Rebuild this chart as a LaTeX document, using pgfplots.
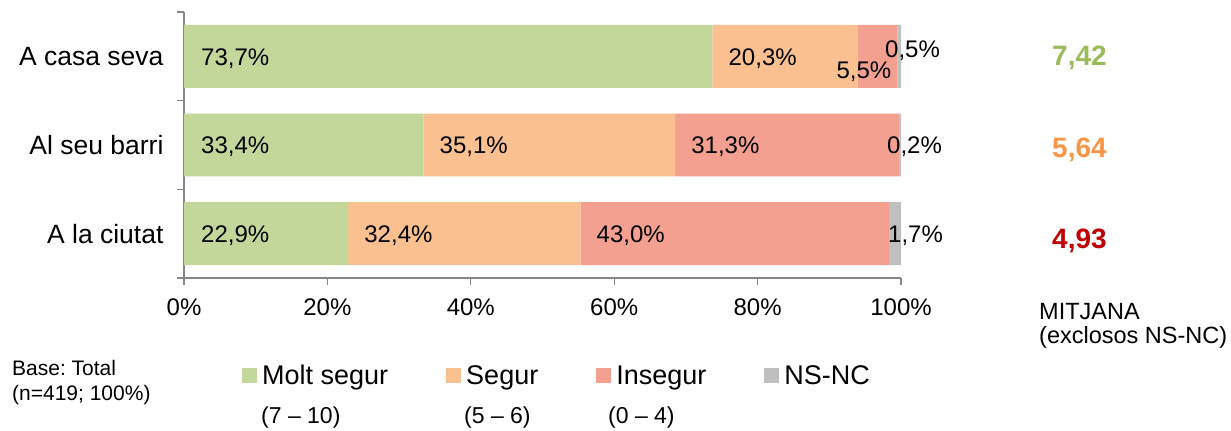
\documentclass[border=0pt]{standalone}
\usepackage{pgfplots}
\pgfplotsset{compat=1.18}
\usepackage{fontspec}
\setmainfont{Liberation Sans}
\frenchspacing
\definecolor{cgreen}{HTML}{C4D79B}
\definecolor{corange}{HTML}{FAC090}
\definecolor{cred}{HTML}{F4A091}
\definecolor{cgrey}{HTML}{BFBFBF}
\definecolor{mgreen}{HTML}{9BBB59}
\definecolor{morange}{HTML}{F79646}
\definecolor{mred}{HTML}{C00000}
\definecolor{axisgrey}{HTML}{868686}
\newcommand{\fbig}{\fontsize{24bp}{28bp}\selectfont}
\newcommand{\fcat}{\fontsize{26.5bp}{30bp}\selectfont}
\newcommand{\fleg}{\fontsize{27bp}{31bp}\selectfont}
\newcommand{\frange}{\fontsize{23bp}{27bp}\selectfont}
\newcommand{\fmit}{\fontsize{23.5bp}{27bp}\selectfont}
\newcommand{\fsmall}{\fontsize{21bp}{25bp}\selectfont}
\begin{document}
\begin{tikzpicture}[x=1bp,y=1bp]
\path[use as bounding box] (0,0) rectangle (1231,430);
\begin{axis}[
  at={(184bp,152bp)}, anchor=south west,
  scale only axis, width=717bp, height=266bp,
  xbar stacked, bar width=0.71,
  xmin=0, xmax=100, ymin=-0.5, ymax=2.5,
  axis x line*=bottom, axis y line*=left,
  axis line style={axisgrey, line width=1.2bp},
  tick style={axisgrey, line width=1.2bp},
  tick align=outside, major tick length=7bp, minor tick length=7bp,
  xtick={0,20,40,60,80,100},
  xticklabels={0\%,20\%,40\%,60\%,80\%,100\%},
  xticklabel style={font=\fbig, yshift=-10bp},
  ytick={0,1,2},
  yticklabels={A la ciutat,Al seu barri,A casa seva},
  major y tick style={draw=none},
  minor ytick={-0.5,0.5,1.5,2.5},
  yticklabel style={font=\fcat, xshift=-10bp},
  legend style={at={(rel axis cs:0.0809,-0.368)}, anchor=west, draw=none, fill=none, inner sep=0pt,
    font=\fleg,
    /tikz/every odd column/.append style={column sep=3bp},
    /tikz/every even column/.append style={column sep=56bp}},
  legend columns=4,
  legend image code/.code={\fill[#1] (0bp,-7.5bp) rectangle (15bp,7.5bp);},
  clip=false,
]
\addplot[fill=cgreen, draw=none] coordinates {(22.9,0) (33.4,1) (73.7,2)};
\addplot[fill=corange, draw=none] coordinates {(32.4,0) (35.1,1) (20.3,2)};
\addplot[fill=cred, draw=none] coordinates {(43.0,0) (31.3,1) (5.5,2)};
\addplot[fill=cgrey, draw=none] coordinates {(1.7,0) (0.2,1) (0.5,2)};
\legend{Molt segur,Segur,Insegur,NS-NC}
\coordinate (a1) at (axis cs:0,2);
\coordinate (a2) at (axis cs:73.7,2);
\coordinate (a3) at (axis cs:99.5,2);
\coordinate (a4) at (axis cs:100,2);
\coordinate (b1) at (axis cs:0,1);
\coordinate (b2) at (axis cs:33.4,1);
\coordinate (b3) at (axis cs:68.5,1);
\coordinate (b4) at (axis cs:100,1);
\coordinate (c1) at (axis cs:0,0);
\coordinate (c2) at (axis cs:22.9,0);
\coordinate (c3) at (axis cs:55.3,0);
\coordinate (c4) at (axis cs:100,0);
\end{axis}
\begin{scope}[every node/.style={font=\fbig, inner sep=0pt}]
\node[anchor=west, xshift=17bp, yshift=-2bp] at (a1) {73,7\%};
\node[anchor=west, xshift=16bp, yshift=-2bp] at (a2) {20,3\%};
\node[anchor=east, xshift=-6bp, yshift=-15bp] at (a3) {5,5\%};
\node[anchor=west, xshift=-16bp, yshift=6bp] at (a4) {0,5\%};
\node[anchor=west, xshift=17bp, yshift=-2bp] at (b1) {33,4\%};
\node[anchor=west, xshift=16bp, yshift=-2bp] at (b2) {35,1\%};
\node[anchor=west, xshift=16bp, yshift=-2bp] at (b3) {31,3\%};
\node[anchor=west, xshift=-14bp, yshift=-2bp] at (b4) {0,2\%};
\node[anchor=west, xshift=17bp, yshift=-2bp] at (c1) {22,9\%};
\node[anchor=west, xshift=16bp, yshift=-2bp] at (c2) {32,4\%};
\node[anchor=west, xshift=16bp, yshift=-2bp] at (c3) {43,0\%};
\node[anchor=west, xshift=-13bp, yshift=-2bp] at (c4) {1,7\%};
\end{scope}
\node[font=\fontsize{28bp}{32bp}\selectfont\bfseries, text=mgreen, anchor=base west, inner sep=0pt] at (1052,365) {7,42};
\node[font=\fontsize{28bp}{32bp}\selectfont\bfseries, text=morange, anchor=base west, inner sep=0pt] at (1052,273) {5,64};
\node[font=\fontsize{28bp}{32bp}\selectfont\bfseries, text=mred, anchor=base west, inner sep=0pt] at (1052,182) {4,93};
\node[font=\fmit, anchor=base west, inner sep=0pt] at (1039,111) {MITJANA};
\node[font=\fmit, anchor=base west, inner sep=0pt] at (1039,87) {(exclosos NS-NC)};
\node[font=\fsmall, anchor=base west, inner sep=0pt] at (12,55) {Base: Total};
\node[font=\fsmall, anchor=base west, inner sep=0pt] at (12,30) {(n=419; 100\%)};
\node[font=\frange, anchor=base west, inner sep=0pt] at (261,7) {(7 – 10)};
\node[font=\frange, anchor=base west, inner sep=0pt] at (464,7) {(5 – 6)};
\node[font=\frange, anchor=base west, inner sep=0pt] at (608,7) {(0 – 4)};
\end{tikzpicture}
\end{document}
